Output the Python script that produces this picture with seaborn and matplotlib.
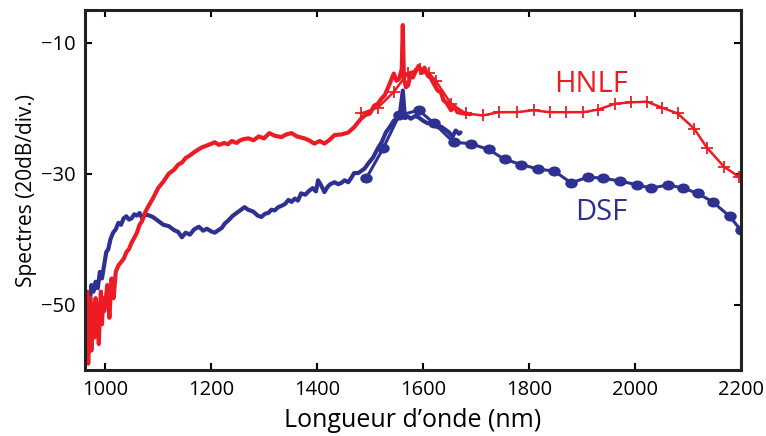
import numpy as np
import pandas as pd
import matplotlib
matplotlib.use("Agg")
import matplotlib.pyplot as plt
from matplotlib.path import Path
import seaborn as sns

# ---- data ----
hnlf_raw_nm = [962, 964, 966, 968, 970, 972, 974, 976, 978, 980, 982, 984, 986, 988, 990,
               992, 994, 996, 998, 1000, 1004, 1008, 1012, 1016, 1020, 1025, 1030, 1035,
               1040, 1045, 1050, 1055, 1060, 1065, 1070, 1075, 1080, 1090, 1100, 1110,
               1120, 1130, 1138, 1145, 1152, 1160, 1170, 1182, 1195, 1207, 1215, 1225,
               1232, 1239, 1248, 1255, 1262, 1271, 1280, 1290, 1300, 1310, 1320, 1333,
               1342, 1352, 1362, 1376, 1385, 1395, 1405, 1414, 1424, 1433, 1446, 1459,
               1470, 1483, 1492, 1500, 1508, 1515, 1522, 1528, 1536, 1545, 1550, 1555,
               1560, 1562, 1564, 1568, 1572, 1576, 1581, 1586, 1592, 1598, 1603, 1609,
               1615, 1620, 1628, 1634, 1639, 1645, 1653, 1660, 1665, 1677, 1690]
hnlf_raw_db = [-50, -56, -48, -59, -52, -49, -57, -50, -53, -55, -49, -54, -50, -56, -51,
               -48, -53, -49, -51, -50, -47, -52, -46, -49, -45, -44, -43.5, -43,
               -42, -41.5, -40.5, -39.8, -39, -37.8, -37.2, -36.0, -35.2, -33.8, -32.2, -31.2,
               -30.0, -29.4, -28.6, -28.3, -27.6, -27.2, -26.6, -26.0, -25.6, -25.2, -25.6, -25.3,
               -25.5, -25.0, -25.3, -24.9, -24.7, -24.6, -24.9, -24.3, -24.6, -23.8, -24.2, -24.4,
               -24.0, -23.8, -24.3, -24.6, -24.9, -25.4, -25.0, -25.4, -24.8, -24.1, -24.0, -23.7,
               -22.9, -21.6, -21.0, -20.8, -19.6, -19.3, -18.5, -18.0, -16.5, -14.7, -15.8, -15.5,
               -14.0, -7.3, -15.5, -16.8, -16.5, -15.0, -15.3, -14.4, -13.5, -14.6, -13.8, -15.0,
               -15.4, -16.2, -17.3, -17.6, -18.8, -19.2, -20.3, -19.8, -20.6, -20.8, -20.9]

hnlf_mk_nm = [1483, 1515, 1545, 1572, 1595, 1611, 1624, 1653, 1681, 1713, 1743, 1777,
              1809, 1839, 1871, 1903, 1931, 1963, 1993, 2023, 2051, 2081, 2112, 2136,
              2168, 2197]
hnlf_mk_db = [-20.8, -19.9, -17.5, -14.6, -14.0, -14.6, -15.8, -19.3, -20.8, -21.1, -20.6,
              -20.6, -20.3, -20.6, -20.6, -20.6, -20.2, -19.3, -19.1, -19.0, -19.9, -20.8,
              -23.1, -26.0, -28.9, -30.5]

dsf_raw_nm = [962, 966, 970, 974, 978, 982, 986, 990, 994, 998, 1002, 1006, 1010, 1015,
              1020, 1025, 1030, 1035, 1040, 1045, 1050, 1055, 1060, 1065, 1070, 1075, 1080,
              1090, 1100, 1110, 1120, 1130, 1138, 1145, 1152, 1160, 1168, 1177, 1185,
              1192, 1200, 1207, 1214, 1220, 1226, 1233, 1240, 1248, 1255, 1263, 1270,
              1280, 1288, 1295, 1302, 1308, 1314, 1320, 1327, 1333, 1340, 1346, 1352,
              1358, 1364, 1370, 1378, 1385, 1392, 1398, 1402, 1408, 1414, 1420, 1425,
              1433, 1440, 1446, 1452, 1459, 1465, 1470, 1478, 1490, 1497, 1506, 1515,
              1522, 1530, 1538, 1545, 1551, 1556, 1562, 1566, 1572, 1577, 1585, 1592,
              1600, 1609, 1615, 1621, 1628, 1634, 1641, 1648, 1656, 1662, 1668, 1671]
dsf_raw_db = [-52, -49, -50.5, -47, -48, -46.5, -47.5, -45, -46, -44, -42, -41.5, -40,
              -39, -38.5, -37.5, -37.8, -36.8, -36.5, -37.0, -36.8, -36.2, -36.4, -36.0,
              -36.8, -36.3, -36.3, -36.6, -37.2, -37.8, -38.0, -38.6, -38.9, -39.7, -39.0,
              -39.3, -38.5, -38.1, -38.7, -38.4, -38.8, -39.0, -38.6, -38.3, -37.6, -37.1,
              -36.5, -36.0, -35.6, -35.1, -35.5, -35.8, -36.4, -36.6, -36.1, -36.0, -35.5,
              -35.6, -35.1, -34.9, -34.6, -34.0, -34.3, -33.8, -34.1, -33.0, -33.2, -32.6,
              -32.2, -32.7, -31.0, -31.8, -32.8, -32.0, -31.6, -31.3, -31.6, -31.4, -31.0,
              -31.3, -30.6, -29.9, -29.9, -29.2, -28.4, -27.5, -26.1, -25.2, -23.7, -22.8,
              -21.9, -21.6, -21.2, -17.3, -21.5, -21.3, -21.6, -21.2, -21.4, -21.9, -22.3,
              -22.1, -22.5, -22.9, -22.8, -23.2, -23.6, -24.3, -23.4, -23.9, -23.7]

dsf_mk_nm = [1493, 1525, 1555, 1592, 1621, 1658, 1690, 1724, 1754, 1786, 1818, 1848,
             1880, 1912, 1940, 1972, 2004, 2031, 2063, 2091, 2119, 2147, 2179, 2200]
dsf_mk_db = [-30.7, -26.1, -21.1, -20.3, -22.3, -25.2, -25.4, -26.3, -27.8, -28.6, -29.3,
             -29.6, -31.4, -30.5, -30.7, -31.1, -31.7, -32.2, -31.7, -32.2, -33.0, -34.3,
             -36.5, -38.6]

x_ticks = [1000, 1200, 1400, 1600, 1800, 2000, 2200]
y_ticks = [-10, -30, -50]

RED = "#ED1C24"
BLUE = "#2E3192"

sns.set_style("ticks")
plt.rcParams["font.family"] = ["Open Sans", "DejaVu Sans"]
plt.rcParams["text.color"] = "black"
plt.rcParams["axes.labelcolor"] = "black"

fig = plt.figure(figsize=(7.66, 4.36), dpi=100)
ax = fig.add_axes([0.111, 0.151, 0.856, 0.826])

# slightly wide ellipse marker for the DSF dots
circ = Path.unit_circle()
ellipse = Path(circ.vertices * np.array([1.25, 1.0]), circ.codes)

hm = pd.DataFrame({"nm": hnlf_mk_nm, "db": hnlf_mk_db})
dm = pd.DataFrame({"nm": dsf_mk_nm, "db": dsf_mk_db})
hr = pd.DataFrame({"nm": hnlf_raw_nm, "db": hnlf_raw_db})
dr = pd.DataFrame({"nm": dsf_raw_nm, "db": dsf_raw_db})

sns.lineplot(data=dm, x="nm", y="db", sort=False, ax=ax, color=BLUE, lw=2.2,
             marker=ellipse, markersize=9, markeredgewidth=0, estimator=None)
sns.lineplot(data=dr, x="nm", y="db", sort=False, ax=ax, color=BLUE, lw=3.0,
             estimator=None)
sns.lineplot(data=hm, x="nm", y="db", sort=False, ax=ax, color=RED, lw=1.8,
             marker="+", markersize=9, markeredgewidth=1.3, markeredgecolor=RED,
             estimator=None)
sns.lineplot(data=hr, x="nm", y="db", sort=False, ax=ax, color=RED, lw=3.0,
             estimator=None)

ax.set_xlim(962, 2200)
ax.set_ylim(-60, -5)
ax.set_xticks(x_ticks)
ax.set_yticks(y_ticks)
ax.set_xticklabels([str(t) for t in x_ticks])
ax.set_yticklabels(["\u221210", "\u221230", "\u221250"])
ax.tick_params(direction="in", length=5, width=1.5, labelsize=14.5, top=True, right=True,
               colors="black", labelcolor="black", pad=7)
for s in ax.spines.values():
    s.set_visible(True)
    s.set_linewidth(2.2)
    s.set_color("#222222")

ax.set_xlabel("Longueur d\u2019onde (nm)", fontsize=18, labelpad=6, color="black")
ax.set_ylabel("Spectres (20dB/div.)", fontsize=15, labelpad=3, color="black")

ax.text(1918, -16.4, "HNLF", color=RED, fontsize=21, ha="center", va="center")
ax.text(1937, -35.9, "DSF", color=BLUE, fontsize=21, ha="center", va="center")

fig.savefig("out.png", dpi=100)
